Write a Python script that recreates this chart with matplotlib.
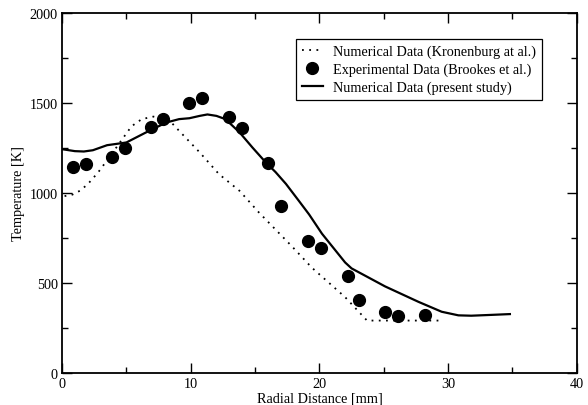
import matplotlib
matplotlib.use("Agg")
import matplotlib.pyplot as plt
from matplotlib.ticker import MultipleLocator

plt.rcParams['font.family'] = ['Liberation Serif', 'DejaVu Serif']
plt.rcParams['font.size'] = 10.3

# --- data ---
# Numerical Data (Kronenburg at al.) - dotted
kron_x = [0.2, 0.8, 1.4, 2.0, 2.8, 3.7, 4.7, 5.4, 6.2, 7.1, 7.8, 8.5, 9.1,
          10.7, 12.2, 13.8, 15.3, 17.9, 19.4, 22.0, 23.7, 26.0, 29.5]
kron_y = [982, 990, 1012, 1048, 1113, 1200, 1300, 1370, 1410, 1424, 1415, 1391, 1345,
          1225, 1104, 1011, 891, 700, 585, 420, 290, 290, 290]

# Experimental Data (Brookes et al.) - markers
exp_x = [0.87, 1.86, 3.85, 4.9, 6.92, 7.85, 9.85, 10.85, 12.94, 13.95,
         15.97, 17.0, 19.1, 20.1, 22.2, 23.1, 25.1, 26.1, 28.2]
exp_y = [1145, 1162, 1199, 1248, 1366, 1412, 1498, 1526, 1422, 1362,
         1167, 925, 732, 692, 536, 407, 337, 314, 320]

# Numerical Data (present study) - solid
pres_x = [0.0, 1.0, 1.7, 2.4, 3.5, 5.0, 6.5, 8.1, 9.1, 9.9, 10.7, 11.3, 12.0,
          12.7, 13.8, 14.8, 15.8, 16.6, 17.4, 18.4, 19.2, 20.2, 22.0, 22.5, 25.1,
          27.7, 29.5, 30.8, 31.8, 33.5, 34.8]
pres_y = [1243, 1232, 1230, 1237, 1265, 1280, 1335, 1391, 1410, 1415, 1428, 1436, 1428,
          1410, 1336, 1252, 1172, 1115, 1050, 956, 880, 773, 613, 580, 480,
          394, 339, 319, 317, 322, 326]

fig = plt.figure(figsize=(5.88, 4.06), dpi=100)
ax = fig.add_axes([0.1054, 0.0795, 0.8756, 0.886])

ax.plot(kron_x, kron_y, color='black', linestyle=(0, (1, 3)), lw=1.3,
        label='Numerical Data (Kronenburg at al.)')
ax.plot(exp_x, exp_y, linestyle='none', marker='o', ms=8.5, color='black',
        label='Experimental Data (Brookes et al.)')
ax.plot(pres_x, pres_y, color='black', lw=1.6,
        label='Numerical Data (present study)')

ax.set_xlim(0, 40)
ax.set_ylim(0, 2000)
ax.xaxis.set_major_locator(MultipleLocator(10))
ax.xaxis.set_minor_locator(MultipleLocator(5))
ax.yaxis.set_major_locator(MultipleLocator(500))
ax.yaxis.set_minor_locator(MultipleLocator(250))
ax.tick_params(which='both', direction='in', top=True, right=True,
               width=1, labelsize=10.3, pad=3)
ax.tick_params(which='major', length=7.5)
ax.tick_params(which='minor', length=4)
for s in ax.spines.values():
    s.set_linewidth(1.3)

ax.set_xlabel('Radial Distance [mm]', labelpad=1)
ax.set_ylabel('Temperature [K]', labelpad=3.5)

leg = ax.legend(loc='upper right', bbox_to_anchor=(0.932, 0.927), borderaxespad=0,
                fancybox=False, framealpha=1, edgecolor='black', handlelength=1.5,
                handletextpad=0.7, labelspacing=0.3, borderpad=0.4)
leg.get_frame().set_linewidth(0.9)

fig.savefig('out.png', dpi=100)
